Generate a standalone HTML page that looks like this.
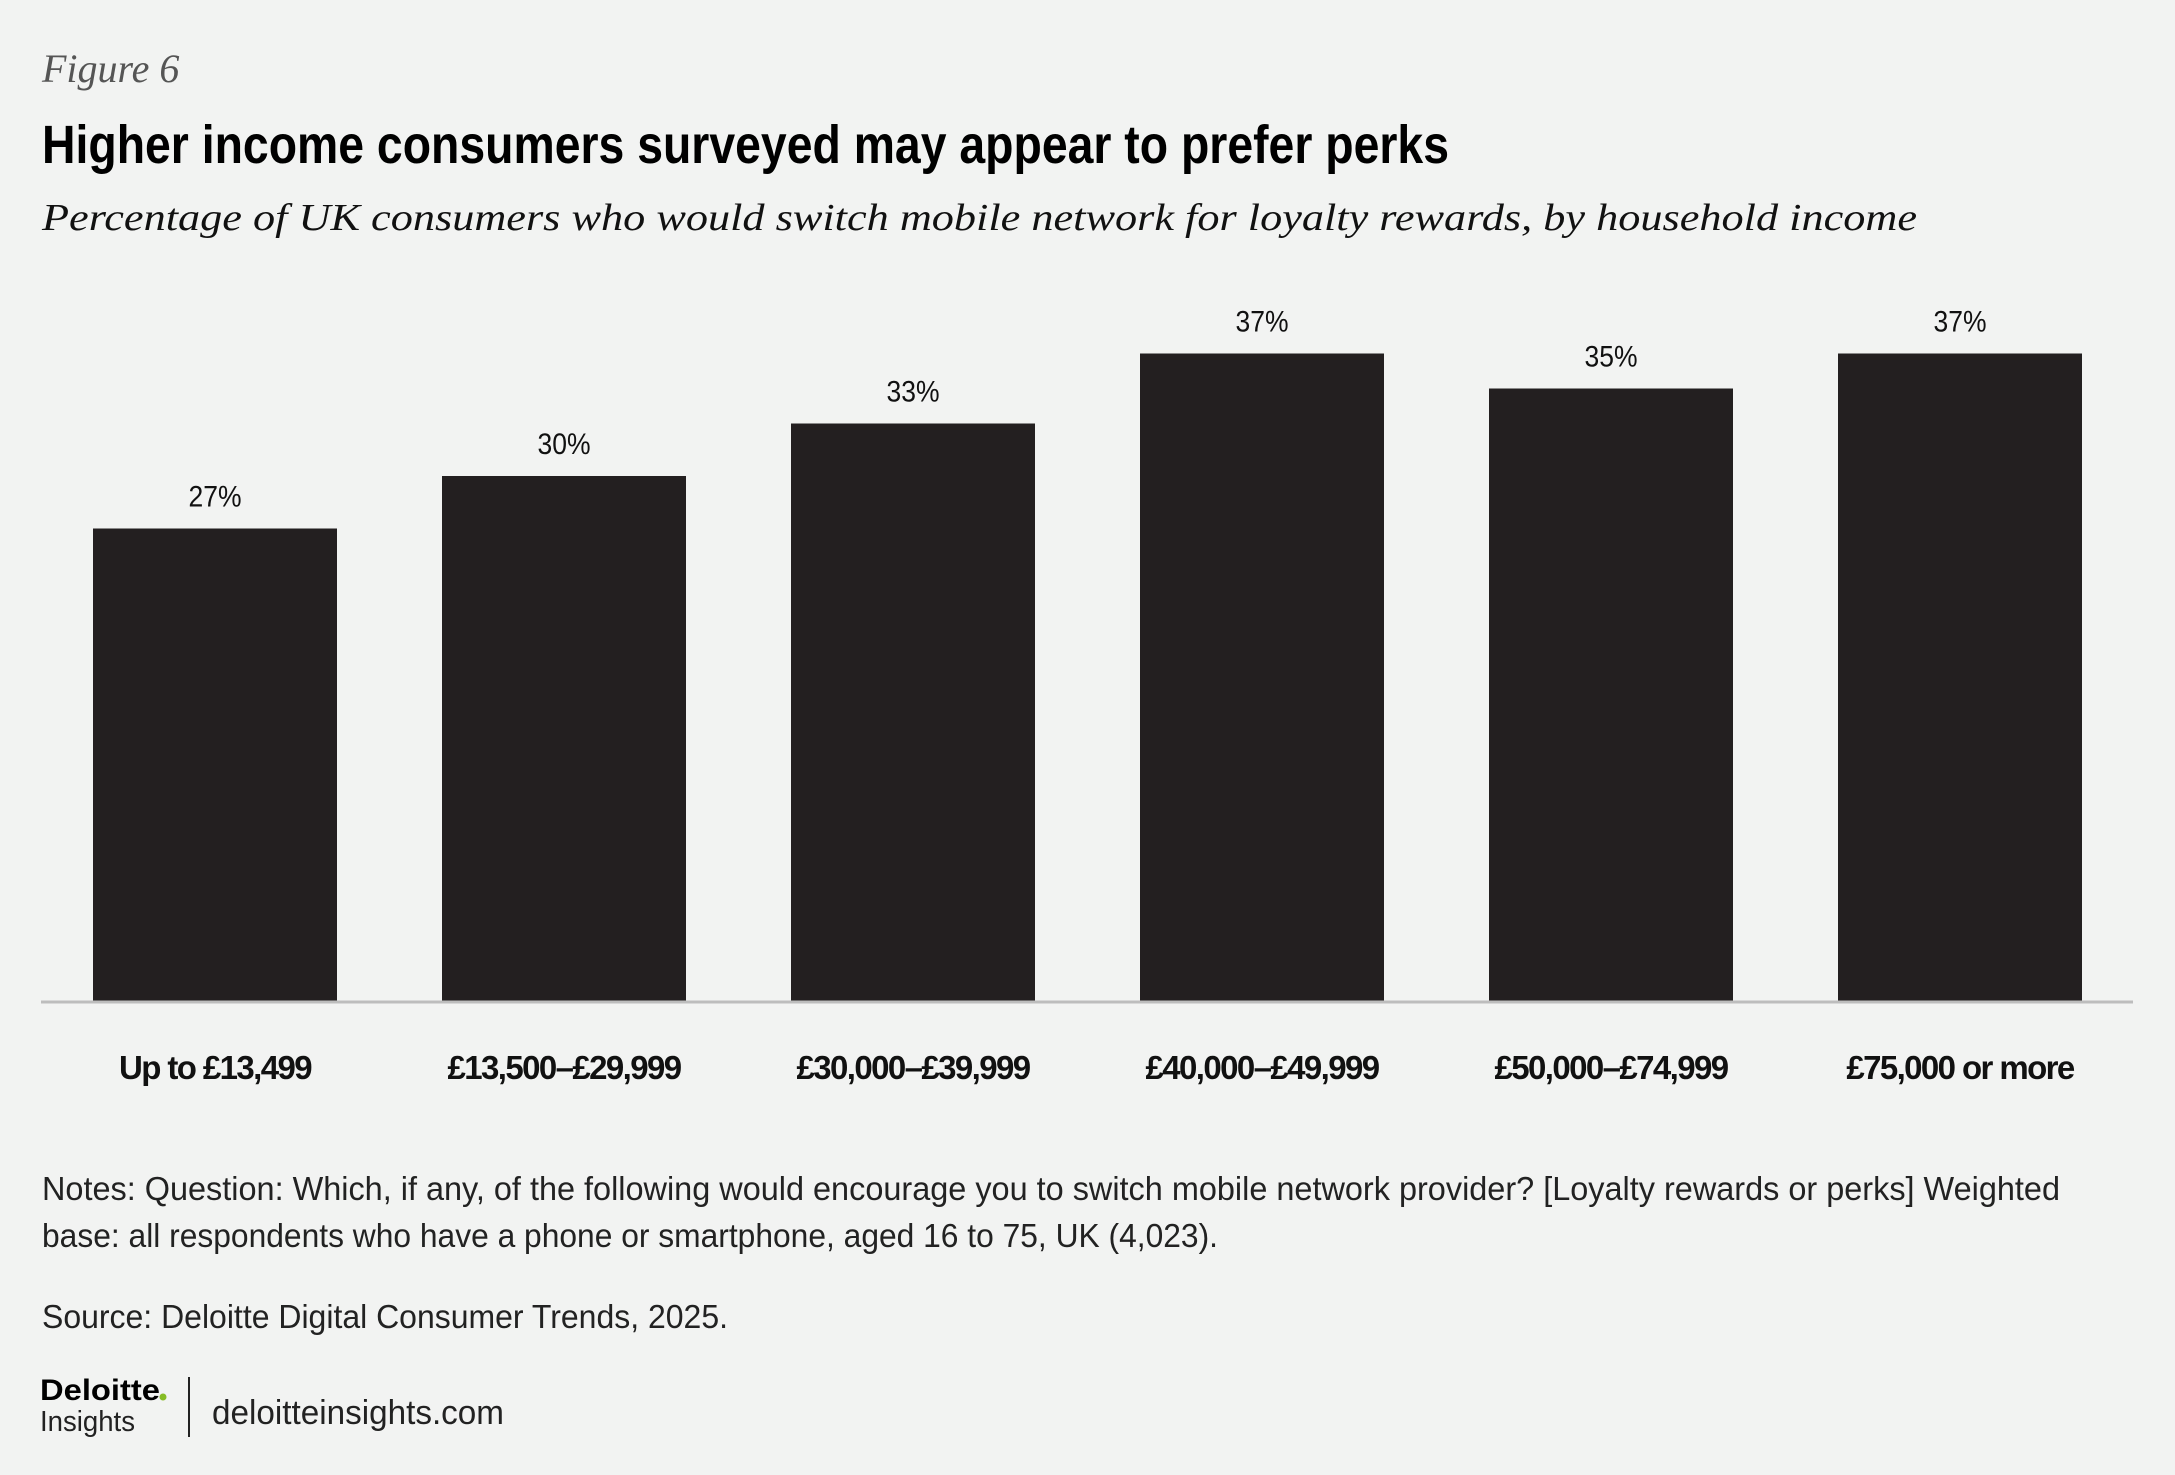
<!DOCTYPE html>
<html><head><meta charset="utf-8"><style>
html,body{margin:0;padding:0;background:#f2f3f2;}
svg{display:block;}
</style></head><body>
<svg id="chart" width="2175" height="1475" viewBox="0 0 2175 1475" xmlns="http://www.w3.org/2000/svg">
<rect width="2175" height="1475" fill="#f2f3f2"/>
<text x="42" y="82" font-family="Liberation Serif, serif" font-style="italic" font-size="40" fill="#555">Figure 6</text>
<text x="42" y="163" font-family="Liberation Sans, sans-serif" font-weight="bold" font-size="54" fill="#000" textLength="1407" lengthAdjust="spacingAndGlyphs">Higher income consumers surveyed may appear to prefer perks</text>
<text x="42" y="230" font-family="Liberation Serif, serif" font-style="italic" font-size="38" fill="#111" textLength="1875" lengthAdjust="spacingAndGlyphs">Percentage of UK consumers who would switch mobile network for loyalty rewards, by household income</text>
<g id="bars"></g>
<line x1="41" y1="1002" x2="2133" y2="1002" stroke="#bdbdbd" stroke-width="3"/>
<g font-family="Liberation Sans, sans-serif" font-size="33" fill="#222">
<text x="42" y="1200" textLength="2018" lengthAdjust="spacingAndGlyphs">Notes: Question: Which, if any, of the following would encourage you to switch mobile network provider? [Loyalty rewards or perks] Weighted</text>
<text x="42" y="1247" textLength="1176" lengthAdjust="spacingAndGlyphs">base:  all respondents who have a phone or smartphone, aged 16 to 75, UK (4,023).</text>
<text x="42" y="1328" textLength="686" lengthAdjust="spacingAndGlyphs">Source: Deloitte Digital Consumer Trends, 2025.</text>
</g>
<g>
<text x="40" y="1400" font-family="Liberation Sans, sans-serif" font-weight="bold" font-size="30" fill="#000" textLength="120" lengthAdjust="spacingAndGlyphs">Deloitte</text>
<circle cx="163" cy="1397" r="3.5" fill="#86bc25"/>
<text x="40" y="1431" font-family="Liberation Sans, sans-serif" font-size="29" fill="#222" textLength="95" lengthAdjust="spacingAndGlyphs">Insights</text>
</g>
<line x1="189" y1="1377" x2="189" y2="1437" stroke="#222" stroke-width="2"/>
<text x="212" y="1424" font-family="Liberation Sans, sans-serif" font-size="34" fill="#222" textLength="292" lengthAdjust="spacingAndGlyphs">deloitteinsights.com</text>
</svg>
<script>
const categories = ["Up to £13,499", "£13,500–£29,999", "£30,000–£39,999", "£40,000–£49,999", "£50,000–£74,999", "£75,000 or more"];
const values = [27, 30, 33, 37, 35, 37];
const valueLabels = ["27%", "30%", "33%", "37%", "35%", "37%"];

const NS = "http://www.w3.org/2000/svg";
const baseY = 1001, pxPerUnit = 17.5;
const firstX = 93, pitch = 349, barW = 244;
function yScale(v){ return baseY - v * pxPerUnit; }
function xScale(i){ return firstX + i * pitch; }
const g = document.getElementById("bars");
categories.forEach((c, i) => {
  const x = xScale(i), y = yScale(values[i]);
  const r = document.createElementNS(NS, "rect");
  r.setAttribute("x", x); r.setAttribute("y", y);
  r.setAttribute("width", barW); r.setAttribute("height", baseY - y);
  r.setAttribute("fill", "#231f20");
  
  
  g.appendChild(r);
  const t = document.createElementNS(NS, "text");
  t.setAttribute("x", x + barW / 2); t.setAttribute("y", y - 22);
  t.setAttribute("text-anchor", "middle");
  t.setAttribute("font-family", "Liberation Sans, sans-serif");
  t.setAttribute("font-size", "30"); t.setAttribute("fill", "#111");
  t.setAttribute("textLength", "53"); t.setAttribute("lengthAdjust", "spacingAndGlyphs");
  t.textContent = valueLabels[i];
  
  
  g.appendChild(t);
  const l = document.createElementNS(NS, "text");
  l.setAttribute("x", x + barW / 2); l.setAttribute("y", 1079);
  l.setAttribute("text-anchor", "middle");
  l.setAttribute("font-family", "Liberation Sans, sans-serif");
  l.setAttribute("font-weight", "bold");
  l.setAttribute("font-size", "33"); l.setAttribute("letter-spacing", "-1.6");
  l.setAttribute("fill", "#111");
  l.textContent = c;
  
  
  g.appendChild(l);
});
</script>
</body></html>
